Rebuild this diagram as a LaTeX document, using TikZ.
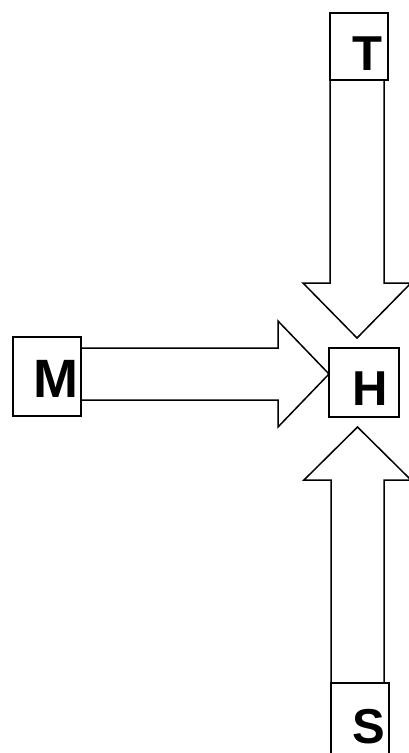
\documentclass[tikz,border=0pt]{standalone}
\usepackage{fontspec}
\setmainfont{Liberation Sans}
\usetikzlibrary{calc}
\begin{document}
\begin{tikzpicture}[x=1pt,y=-1pt,line join=miter,
  boxnode/.style={draw,line width=1.5pt,rectangle,inner sep=0pt,outer sep=0pt},
  letter/.style={inner sep=0pt,font=\bfseries\fontsize{49}{49}\selectfont},
  blockarrow/.style={draw,line width=1.5pt}]
\useasboundingbox (0,0) rectangle (409,753);
\clip (0,0) rectangle (409,753);

% boxes
\node[boxnode,minimum width=58pt,minimum height=67pt] (Tbox) at (359,46.5) {};
\node[boxnode,minimum width=70pt,minimum height=69pt] (Hbox) at (364,382.5) {};
\node[boxnode,minimum width=68pt,minimum height=79pt] (Mbox) at (47,376.5) {};
\node[boxnode,minimum width=58pt,minimum height=90pt] (Sbox) at (360,728) {};

% letters
\node[letter] (T) at (367.5,53.5) {T};
\node[letter] (H) at (370,389) {H};
\node[letter,font=\bfseries\fontsize{54}{54}\selectfont] (M) at (55.5,379) {M};
\node[letter] (S) at (368.5,727) {S};

% arrow tips
\coordinate (Ttip) at ($(Hbox.north)+(-7,-10)$);
\coordinate (Mtip) at ($(Hbox.west)+(0,-8.5)$);
\coordinate (Stip) at ($(Hbox.south)+(-6.5,10)$);

% block arrows
\draw[blockarrow] (Tbox.south west) -- (330,283) -- (303,283) -- (Ttip)
  -- (411,283) -- (384,283) -- (384,80);
\draw[blockarrow] (81,348) -- (278,348) -- (278,321) -- (Mtip)
  -- (278,427) -- (278,400) -- (81,400);
\draw[blockarrow] (Sbox.north west) -- (331,480) -- (304,480) -- (Stip)
  -- (411,480) -- (384,480) -- (384,683);
\end{tikzpicture}
\end{document}
